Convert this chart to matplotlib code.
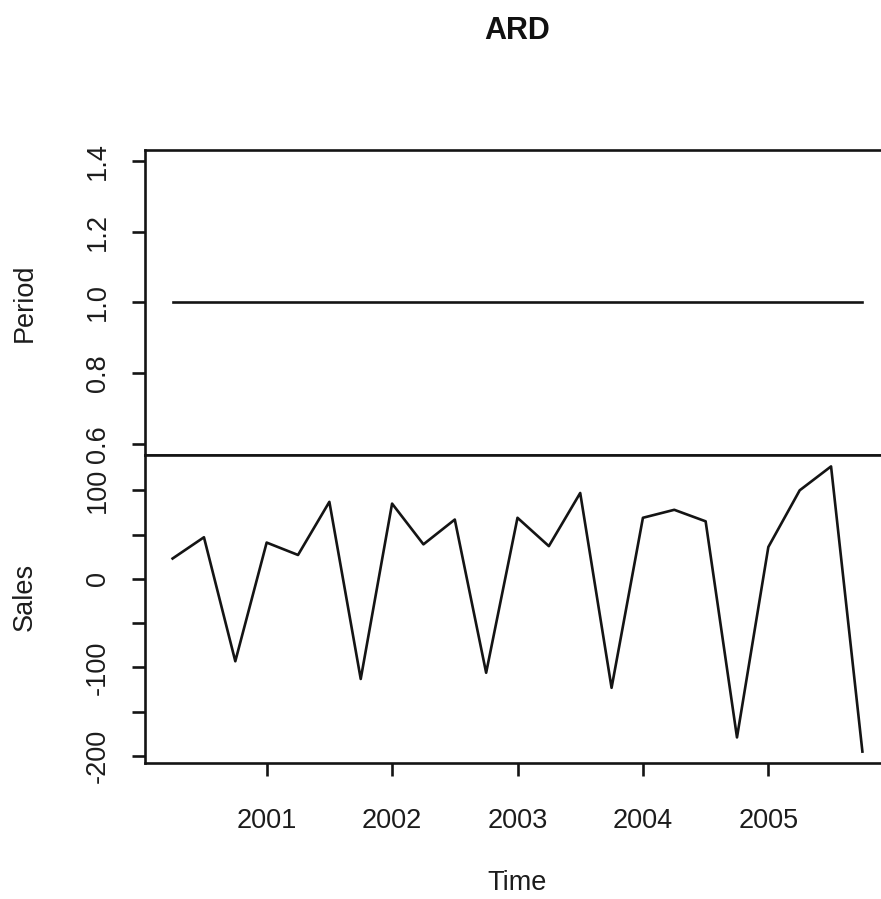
import numpy as np
import matplotlib
matplotlib.use("Agg")
import matplotlib.pyplot as plt
from matplotlib.ticker import FixedLocator, FixedFormatter

plt.rcParams['font.family'] = ['Liberation Sans', 'DejaVu Sans']

title = "ARD"
start_year = 2000.25
freq = 4
period = [1.0, 1.0, 1.0, 1.0, 1.0, 1.0, 1.0, 1.0, 1.0, 1.0, 1.0, 1.0,
          1.0, 1.0, 1.0, 1.0, 1.0, 1.0, 1.0, 1.0, 1.0, 1.0, 1.0]
sales = [23, 47, -93, 41, 27, 87, -113, 85, 39, 67, -106, 69,
         37, 97, -123, 69, 78, 65, -179, 36, 100, 127, -195]
time = start_year + np.arange(len(sales)) / freq

period_ticks = [0.6, 0.8, 1.0, 1.2, 1.4]
period_labels = ["0.6", "0.8", "1.0", "1.2", "1.4"]
sales_ticks = [-200, -150, -100, -50, 0, 50, 100]
sales_labels = ["-200", "", "-100", "", "0", "", "100"]
year_ticks = [2001, 2002, 2003, 2004, 2005]

W, H = 881, 899
fig = plt.figure(figsize=(W / 100, H / 100), dpi=100)
fig.patch.set_facecolor("white")

left = 145 / W
right = 890 / W
y_top = 1 - 150 / H
y_mid = 1 - 455 / H
y_bot = 1 - 763 / H

ax1 = fig.add_axes([left, y_mid, right - left, y_top - y_mid])
ax2 = fig.add_axes([left, y_bot, right - left, y_mid - y_bot], sharex=ax1)

col = "#141414"
tcol = "#1c1c1c"
fs = 19.5
lw = 1.9

def extend(lo, hi):
    r = hi - lo
    return lo - 0.04 * r, hi + 0.04 * r

xlo, xhi = extend(time[0], time[-1])

ax1.plot(time, period, color=col, lw=lw)
ax2.plot(time, sales, color=col, lw=lw)

ax1.set_xlim(xlo, xhi)
ax1.set_ylim(*extend(0.6, 1.4))
ax2.set_ylim(*extend(min(sales), max(sales)))

for ax in (ax1, ax2):
    for s in ax.spines.values():
        s.set_color(col)
        s.set_linewidth(lw)
    ax.tick_params(axis='both', direction='out', length=9.5, width=lw,
                   color=col, labelcolor=tcol, labelsize=fs)
    ax.tick_params(axis='y', pad=15)

ax1.yaxis.set_major_locator(FixedLocator(period_ticks))
ax1.yaxis.set_major_formatter(FixedFormatter(period_labels))
ax2.yaxis.set_major_locator(FixedLocator(sales_ticks))
ax2.yaxis.set_major_formatter(FixedFormatter(sales_labels))
for ax in (ax1, ax2):
    plt.setp(ax.get_yticklabels(), rotation=90, va='center', ha='right')
    ax.yaxis.set_tick_params(rotation=90)

ax1.tick_params(axis='x', bottom=False, labelbottom=False)
ax2.xaxis.set_major_locator(FixedLocator(year_ticks))
ax2.xaxis.set_major_formatter(FixedFormatter([str(y) for y in year_ticks]))
ax2.tick_params(axis='x', pad=23)

for lab in ax1.get_yticklabels() + ax2.get_yticklabels():
    lab.set_verticalalignment('center')

fig.text(25 / W, 1 - 303 / H, "Period", rotation=90, ha='center', va='center',
         fontsize=fs, color=tcol)
fig.text(25 / W, 1 - 597 / H, "Sales", rotation=90, ha='center', va='center',
         fontsize=fs, color=tcol)
fig.text(517 / W, 1 - 883 / H, "Time", ha='center', va='center',
         fontsize=fs, color=tcol)
fig.text(517 / W, 1 - 31 / H, title, ha='center', va='center',
         fontsize=22, fontweight='bold', color="#111111")

fig.savefig("out.png", dpi=100, facecolor="white")
